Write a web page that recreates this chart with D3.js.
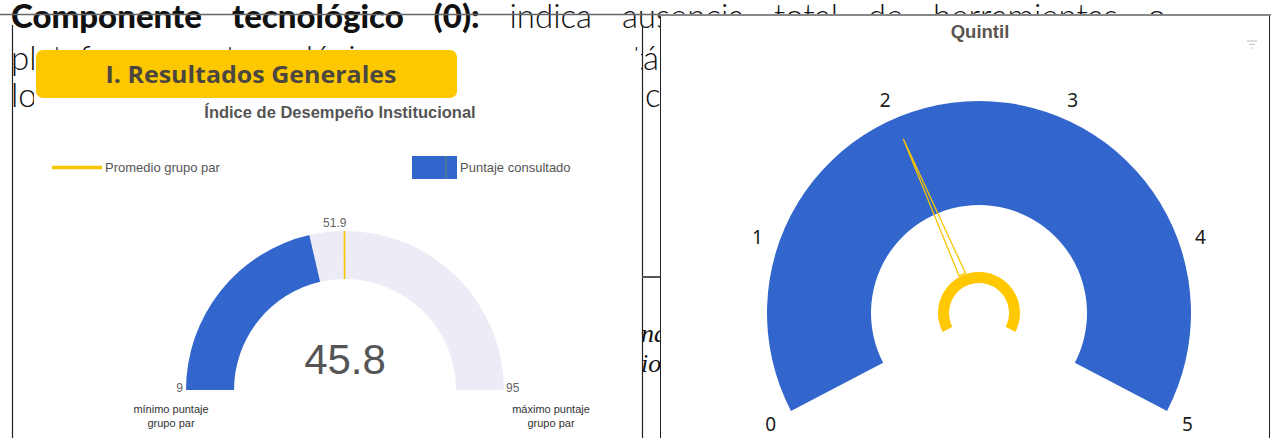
<!DOCTYPE html>
<html lang="es">
<head>
<meta charset="utf-8">
<script src="https://cdn.jsdelivr.net/npm/d3@7"></script>
<style>
  html, body { margin: 0; padding: 0; background: #fff; }
  svg { display: block; }
</style>
</head>
<body>
<svg id="page" width="1272" height="438"></svg>
<script>
// ---- Índice de Desempeño Institucional ----
const idiRange = [9, 95];            // mínimo / máximo puntaje grupo par
const idiScore = [45.8];             // puntaje consultado
const peerAverage = [51.9];          // promedio grupo par
const idiLegend = ["Promedio grupo par", "Puntaje consultado"];
const minCaption = ["mínimo puntaje", "grupo par"];
const maxCaption = ["máximo puntaje", "grupo par"];

// ---- Quintil ----
const quintileTicks = [0, 1, 2, 3, 4, 5];
const quintileValue = [2];

// ---- document text around the charts ----
const line1Bold = ["Componente", "tecnológico", "(0):"];
const line1Light = ["indica", "ausencia", "total", "de", "herramientas", "o"];
const line2Words = ["plataformas", "tecnológicas", "que", "no", "están", "integradas", "a", "los"];
const line3Words = ["los", "procesos", "misionales", "y", "de", "control", "de", "la", "entidad."];
const sideFragments = ["nal", "ioc"];

const svg = d3.select("#page");
const BLUE = "#3366cc";
const GOLD = "#f7c600";

// ---------- paragraph behind the panels ----------
const para = svg.append("g");
const PARA_FONT = "Lato, 'Open Sans', sans-serif";

function measure(t, bold) {
  const tmp = para.append("text").attr("font-family", PARA_FONT).attr("font-size", 33)
    .attr("font-weight", bold ? 900 : 300).text(t);
  const w = tmp.node().getComputedTextLength();
  tmp.remove();
  return w;
}

// justified line; optionally one word is pinned so that its text after `prefix` starts at `ax`
function setLine(words, x0, x1, y, pin) {
  const nodes = words.map(w => para.append("text")
    .attr("y", y)
    .attr("font-family", PARA_FONT)
    .attr("font-size", 33)
    .attr("font-weight", w.bold ? 900 : 300)
    .attr("fill", "#111")
    .text(w.t));
  const widths = nodes.map(n => n.node().getComputedTextLength());
  const spread = (from, to, a, b) => {
    const n = to - from;
    if (n <= 0) return;
    const gap = n > 1 ? (b - a - d3.sum(widths.slice(from, to))) / (n - 1) : 0;
    let x = a;
    for (let i = from; i < to; i++) { nodes[i].attr("x", x); x += widths[i] + gap; }
  };
  if (!pin) { spread(0, nodes.length, x0, x1); return; }
  const k = pin.index;
  const px = pin.x - measure(pin.prefix, false);
  nodes[k].attr("x", px);
  const gapL = 12;
  spread(0, k, x0, px - gapL);
  spread(k + 1, nodes.length, px + widths[k] + gapL, x1);
}
setLine(line1Bold.map(t => ({t, bold: true})).concat(line1Light.map(t => ({t}))), 11, 1166, 28);
setLine(line2Words.map(t => ({t})), 11, 1166, 70, {index: 4, prefix: "est", x: 643});
setLine(line3Words.map(t => ({t})), 11, 1166, 107, {index: 5, prefix: "", x: 645});

// italic fragments showing in the narrow gap between the panels
svg.append("clipPath").attr("id", "gap").append("rect")
  .attr("x", 642).attr("y", 280).attr("width", 18).attr("height", 158);
svg.append("g").attr("clip-path", "url(#gap)")
  .selectAll("text").data(sideFragments).join("text")
  .attr("x", 641).attr("y", (d, i) => 342 + i * 30)
  .attr("font-family", "'Liberation Serif', serif")
  .attr("font-style", "italic")
  .attr("font-size", 26)
  .attr("fill", "#111")
  .text(d => d);

// ---------- left panel: Índice de Desempeño Institucional ----------
svg.append("rect").attr("x", 34).attr("y", 50.5).attr("width", 607).attr("height", 388).attr("fill", "#fff");

svg.append("rect").attr("x", 36).attr("y", 50).attr("width", 421).attr("height", 48)
  .attr("rx", 7).attr("fill", "#fdc800");
svg.append("text").attr("x", 251).attr("y", 83).attr("text-anchor", "middle")
  .attr("font-family", "'Open Sans', 'Liberation Sans', sans-serif").attr("font-weight", 700)
  .attr("font-size", 23).attr("fill", "#4b4740")
  .attr("textLength", 291).attr("lengthAdjust", "spacingAndGlyphs")
  .text("I. Resultados Generales");

svg.append("text").attr("x", 340).attr("y", 118).attr("text-anchor", "middle")
  .attr("font-family", "'Liberation Sans', Arial, sans-serif").attr("font-weight", 700)
  .attr("font-size", 16.5).attr("fill", "#555")
  .text("Índice de Desempeño Institucional");

// legend
const legend = svg.append("g").attr("font-family", "'Liberation Sans', Arial, sans-serif")
  .attr("font-size", 13).attr("fill", "#555");
legend.append("line").attr("x1", 52).attr("x2", 102).attr("y1", 167.5).attr("y2", 167.5)
  .attr("stroke", GOLD).attr("stroke-width", 3.5);
legend.append("text").attr("x", 105).attr("y", 172).text(idiLegend[0]);
legend.append("rect").attr("x", 412).attr("y", 156).attr("width", 45).attr("height", 23).attr("fill", BLUE);
legend.append("line").attr("x1", 446).attr("x2", 446).attr("y1", 156).attr("y2", 179)
  .attr("stroke", "#5b8a6a").attr("stroke-width", 1);
legend.append("text").attr("x", 460).attr("y", 172).text(idiLegend[1]);

// half-donut gauge
const L = {cx: 345, cy: 390, R: 159, r: 111};
const idiAngle = d3.scaleLinear().domain(idiRange).range([-Math.PI / 2, Math.PI / 2]);
const arcL = d3.arc().innerRadius(L.r).outerRadius(L.R);
const gL = svg.append("g").attr("transform", `translate(${L.cx},${L.cy})`);
gL.append("path")
  .attr("d", arcL({startAngle: idiAngle(idiRange[0]), endAngle: idiAngle(idiRange[1])}))
  .attr("fill", "#ecebf6");
gL.selectAll("path.score").data(idiScore).join("path").attr("class", "score")
  .attr("d", d => arcL({startAngle: idiAngle(idiRange[0]), endAngle: idiAngle(d)}))
  .attr("fill", BLUE);
gL.selectAll("line.avg").data(peerAverage).join("line").attr("class", "avg")
  .attr("x1", d => L.r * Math.sin(idiAngle(d))).attr("y1", d => -L.r * Math.cos(idiAngle(d)))
  .attr("x2", d => L.R * Math.sin(idiAngle(d))).attr("y2", d => -L.R * Math.cos(idiAngle(d)))
  .attr("stroke", GOLD).attr("stroke-width", 1.6);

const small = gL.append("g").attr("font-family", "'Liberation Sans', Arial, sans-serif")
  .attr("font-size", 12).attr("fill", "#666");
small.selectAll("text.avgLabel").data(peerAverage).join("text").attr("class", "avgLabel")
  .attr("x", d => (L.R + 8) * Math.sin(idiAngle(d)) + 2)
  .attr("y", d => -(L.R + 4) * Math.cos(idiAngle(d)))
  .attr("text-anchor", "end").text(d => d.toFixed(1));
small.append("text").attr("x", -L.R - 3).attr("y", 2).attr("text-anchor", "end").text(idiRange[0]);
small.append("text").attr("x", L.R + 2).attr("y", 2).attr("text-anchor", "start").text(idiRange[1]);

gL.selectAll("text.value").data(idiScore).join("text").attr("class", "value")
  .attr("x", 0).attr("y", -16).attr("text-anchor", "middle")
  .attr("font-family", "'Liberation Sans', Arial, sans-serif")
  .attr("font-size", 42).attr("fill", "#555")
  .text(d => d.toFixed(1));

const caps = gL.append("g").attr("font-family", "'Liberation Sans', Arial, sans-serif")
  .attr("font-size", 11).attr("fill", "#333").attr("text-anchor", "middle");
caps.selectAll("text.min").data(minCaption).join("text").attr("class", "min")
  .attr("x", -174).attr("y", (d, i) => 23 + i * 14).text(d => d);
caps.selectAll("text.max").data(maxCaption).join("text").attr("class", "max")
  .attr("x", 206).attr("y", (d, i) => 23 + i * 14).text(d => d);

// ---------- right panel: Quintil ----------
svg.append("rect").attr("x", 660.5).attr("y", 15).attr("width", 609).attr("height", 424)
  .attr("fill", "#fff").attr("stroke", "#222").attr("stroke-width", 1);
svg.append("line").attr("x1", 660).attr("x2", 1271).attr("y1", 15).attr("y2", 15)
  .attr("stroke", "#888").attr("stroke-width", 2.2);

svg.append("text").attr("x", 980).attr("y", 38).attr("text-anchor", "middle")
  .attr("font-family", "'Liberation Sans', Arial, sans-serif").attr("font-weight", 700)
  .attr("font-size", 18.5).attr("fill", "#5a5550").text("Quintil");

// filter glyph in the panel corner
const fg = svg.append("g").attr("stroke", "#c8c8c8").attr("stroke-width", 1.2);
[[1247, 1257, 41], [1249, 1255, 44.5], [1251, 1253, 48]].forEach(([a, b, y]) =>
  fg.append("line").attr("x1", a).attr("x2", b).attr("y1", y).attr("y2", y));

const Q = {cx: 979, cy: 313, R: 212, r: 108};
const qAngle = d3.scaleLinear()
  .domain(d3.extent(quintileTicks))
  .range([-117.5 * Math.PI / 180, 117.5 * Math.PI / 180]);
const gQ = svg.append("g").attr("transform", `translate(${Q.cx},${Q.cy})`);
gQ.append("path")
  .attr("d", d3.arc().innerRadius(Q.r).outerRadius(Q.R)({
    startAngle: qAngle(quintileTicks[0]), endAngle: qAngle(quintileTicks[quintileTicks.length - 1])}))
  .attr("fill", BLUE);

gQ.selectAll("text.tick").data(quintileTicks).join("text").attr("class", "tick")
  .attr("x", d => 235 * Math.sin(qAngle(d)))
  .attr("y", d => 3 - 235 * Math.cos(qAngle(d)))
  .attr("dy", "0.35em").attr("text-anchor", "middle")
  .attr("font-family", "'Noto Sans', 'Open Sans', sans-serif")
  .attr("font-size", 19).attr("fill", "#1a1a1a")
  .text(d => d);

// needle: slim outlined wedge from hub to the quintile value
gQ.selectAll("path.needle").data(quintileValue).join("path").attr("class", "needle")
  .attr("d", d => {
    const a = qAngle(d), s = Math.sin(a), c = Math.cos(a);
    const base = 42, tip = 190, hw = 3.5;
    const bx = base * s, by = -base * c;
    return `M${bx + hw * c},${by + hw * s} L${tip * s},${-tip * c} L${bx - hw * c},${by - hw * s} Z`;
  })
  .attr("fill", "none").attr("stroke", GOLD).attr("stroke-width", 1.3);

// hub
gQ.append("path")
  .attr("d", d3.arc().innerRadius(30).outerRadius(41)({
    startAngle: qAngle(quintileTicks[0]), endAngle: qAngle(quintileTicks[quintileTicks.length - 1])}))
  .attr("fill", "#ffc800");

// ---------- table rules ----------
svg.append("line").attr("x1", 0).attr("x2", 660).attr("y1", 14.5).attr("y2", 14.5)
  .attr("stroke", "#666").attr("stroke-width", 1.5);
svg.append("line").attr("x1", 12.5).attr("x2", 12.5).attr("y1", 25).attr("y2", 438)
  .attr("stroke", "#222").attr("stroke-width", 1.2);
svg.append("line").attr("x1", 642.5).attr("x2", 642.5).attr("y1", 26).attr("y2", 438)
  .attr("stroke", "#222").attr("stroke-width", 1.2);
svg.append("line").attr("x1", 642).attr("x2", 660).attr("y1", 277).attr("y2", 277)
  .attr("stroke", "#555").attr("stroke-width", 2);
</script>
</body>
</html>
